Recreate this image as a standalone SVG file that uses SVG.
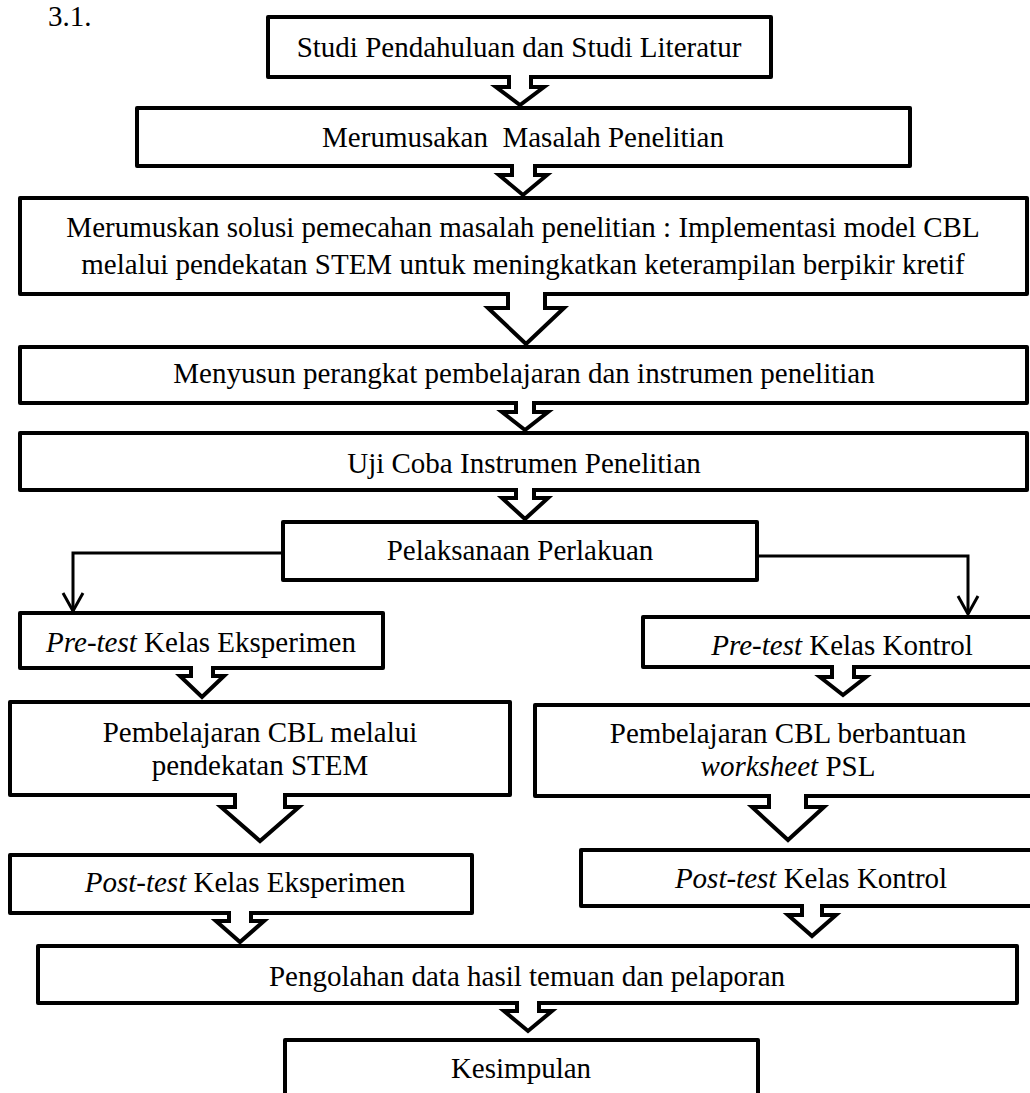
<svg xmlns="http://www.w3.org/2000/svg" width="1030" height="1093" viewBox="0 0 1030 1093">
<style>
.box{fill:#fff;stroke:#000;stroke-width:4;stroke-linejoin:round}
.t{font-family:"Liberation Serif","Times New Roman",serif;font-size:29px;fill:#000;text-anchor:middle}
.i{font-style:italic}
.blk{fill:#fff;stroke:#000;stroke-width:4;stroke-linejoin:miter;stroke-miterlimit:4}
.ln{fill:none;stroke:#000;stroke-width:3}
</style>
<defs>
<marker id="open" viewBox="0 0 22 24" refX="20" refY="12" markerWidth="22" markerHeight="24" markerUnits="userSpaceOnUse" orient="auto">
<path d="M2,2 L20,12 L2,22" fill="none" stroke="#000" stroke-width="3"/>
</marker>
</defs>
<rect width="1030" height="1093" fill="#fff"/>
<text class="t" x="48" y="26" style="text-anchor:start">3.1.</text>

<g id="n1"><rect class="box" x="268" y="17" width="503" height="60"/><text class="t" x="519" y="57">Studi Pendahuluan dan Studi Literatur</text></g>
<g id="n2"><rect class="box" x="137" y="108" width="773" height="58"/><text class="t" x="523" y="147" xml:space="preserve">Merumusakan  Masalah Penelitian</text></g>
<g id="n3"><rect class="box" x="20" y="198" width="1007" height="96"/><text class="t" x="523" y="237">Merumuskan solusi pemecahan masalah penelitian : Implementasi model CBL</text><text class="t" x="523" y="274">melalui pendekatan STEM untuk meningkatkan keterampilan berpikir kretif</text></g>
<g id="n4"><rect class="box" x="20" y="347" width="1007" height="56"/><text class="t" x="524" y="383">Menyusun perangkat pembelajaran dan instrumen penelitian</text></g>
<g id="n5"><rect class="box" x="20" y="433" width="1007" height="57"/><text class="t" x="524" y="473">Uji Coba Instrumen Penelitian</text></g>
<g id="n6"><rect class="box" x="283" y="522" width="474" height="58"/><text class="t" x="520" y="560">Pelaksanaan Perlakuan</text></g>
<g id="n7"><rect class="box" x="20" y="613" width="363" height="55"/><text class="t" x="201" y="652"><tspan class="i">Pre-test</tspan> Kelas Eksperimen</text></g>
<g id="n8"><rect class="box" x="643" y="617" width="399" height="50"/><text class="t" x="842" y="655"><tspan class="i">Pre-test</tspan> Kelas Kontrol</text></g>
<g id="n9"><rect class="box" x="10" y="702" width="500" height="93"/><text class="t" x="260" y="742">Pembelajaran CBL melalui</text><text class="t" x="260" y="775">pendekatan STEM</text></g>
<g id="n10"><rect class="box" x="535" y="705" width="507" height="91"/><text class="t" x="788" y="743">Pembelajaran CBL berbantuan</text><text class="t" x="788" y="776"><tspan class="i">worksheet</tspan> PSL</text></g>
<g id="n11"><rect class="box" x="10" y="855" width="462" height="58"/><text class="t" x="245" y="892"><tspan class="i">Post-test</tspan> Kelas Eksperimen</text></g>
<g id="n12"><rect class="box" x="581" y="850" width="461" height="56"/><text class="t" x="811" y="888"><tspan class="i">Post-test</tspan> Kelas Kontrol</text></g>
<g id="n13"><rect class="box" x="38" y="946" width="979" height="57"/><text class="t" x="527" y="986">Pengolahan data hasil temuan dan pelaporan</text></g>
<g id="n14"><rect class="box" x="285" y="1040" width="473" height="70"/><text class="t" x="521" y="1078">Kesimpulan</text></g>

<g id="connectors">
<path class="blk" d="M509,75 L509,87 L496,87 L520,105 L544,87 L531,87 L531,75"/>
<path class="blk" d="M512,164 L512,175 L499,175 L523,195 L547,175 L535,175 L535,164"/>
<path class="blk" d="M508,292 L508,308 L488,308 L526,344 L564,308 L545,308 L545,292"/>
<path class="blk" d="M516,401 L516,412 L502,412 L525,430 L548,412 L534,412 L534,401"/>
<path class="blk" d="M516,488 L516,498 L502,498 L525,519 L548,498 L534,498 L534,488"/>
<path class="blk" d="M191,666 L191,676 L180,676 L202,697 L224,676 L213,676 L213,666"/>
<path class="blk" d="M832,665 L832,677 L820,677 L843,695 L866,677 L854,677 L854,665"/>
<path class="blk" d="M235,793 L235,807 L221,807 L260,841 L299,807 L285,807 L285,793"/>
<path class="blk" d="M769,794 L769,807 L752,807 L788,840 L824,807 L806,807 L806,794"/>
<path class="blk" d="M229,911 L229,921 L216,921 L240,942 L264,921 L251,921 L251,911"/>
<path class="blk" d="M802,904 L802,915 L788,915 L812,936 L836,915 L822,915 L822,904"/>
<path class="blk" d="M517,1001 L517,1011 L504,1011 L528,1031 L552,1011 L539,1011 L539,1001"/>
<path class="ln" d="M283,553 L73,553 L73,611" marker-end="url(#open)"/>
<path class="ln" d="M757,556 L968,556 L968,614" marker-end="url(#open)"/>
</g>
</svg>
